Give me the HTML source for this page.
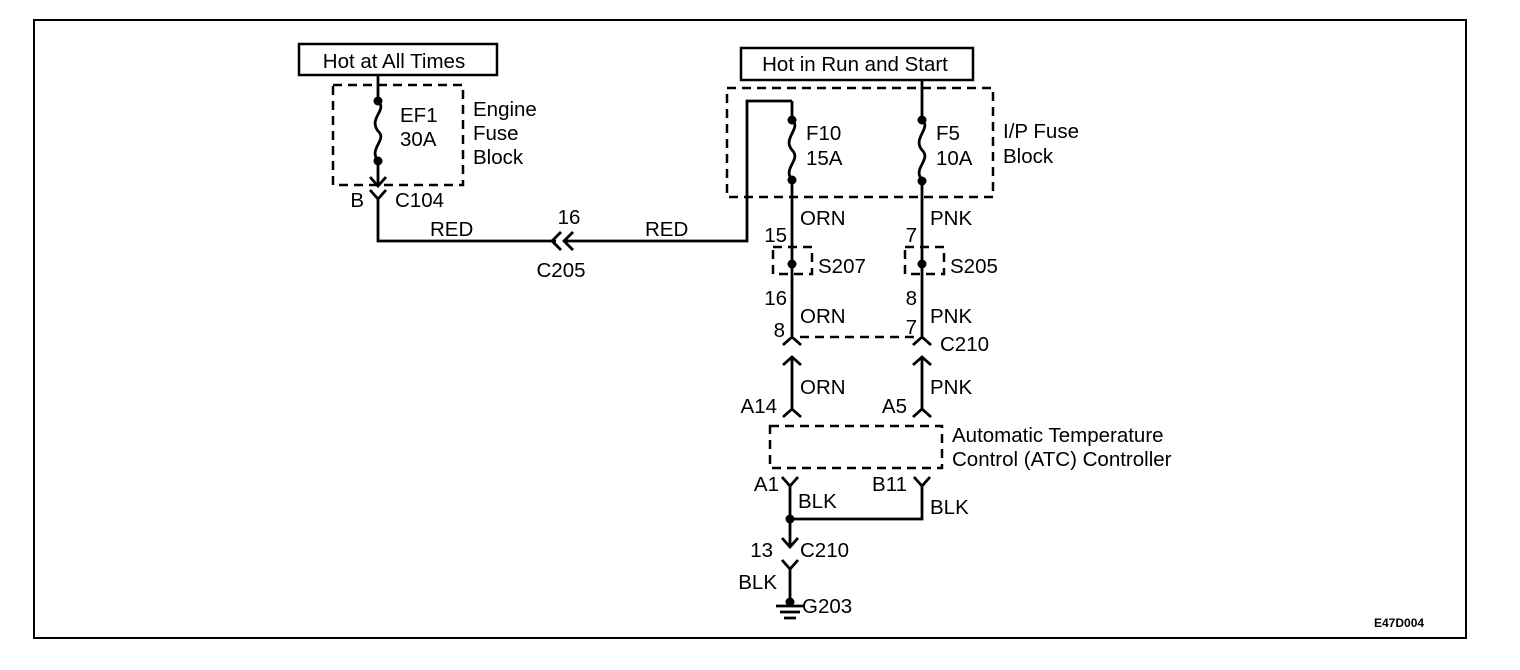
<!DOCTYPE html>
<html><head><style>
html,body{margin:0;padding:0;background:#fff;}
svg{display:block;}
text{font-family:"Liberation Sans",sans-serif;font-size:20.5px;fill:#000;}
</style></head><body>
<svg width="1520" height="670" viewBox="0 0 1520 670" xmlns="http://www.w3.org/2000/svg">
<rect x="34" y="20" width="1432" height="618" fill="none" stroke="#000" stroke-width="2"/>
<g fill="none" stroke="#000" stroke-width="2.5">
<rect x="299" y="44" width="198" height="31"/>
<rect x="741" y="48" width="232" height="32"/>
</g>
<g fill="none" stroke="#000" stroke-width="2.5" stroke-dasharray="9,6">
<rect x="333" y="85" width="130" height="100"/>
<rect x="727" y="88" width="266" height="109"/>
<rect x="773" y="247" width="39" height="27"/>
<rect x="905" y="247" width="39" height="27"/>
<line x1="800" y1="337" x2="915" y2="337"/>
<rect x="770" y="426" width="172" height="42"/>
</g>
<g fill="none" stroke="#000" stroke-width="2.8">
<path d="M378 75 V101 C388 110,368 118,378 131 C388 140,368 148,378 161 V186"/>
<path d="M370 177 L378 186 L386 177"/>
<path d="M370 190 L378 199 L386 190 M378 199 V241 H556"/>
<path d="M561 232 L552 241 L561 250"/>
<path d="M573 232 L564 241 L573 250 M564 241 H747 V101 H792"/>
<path d="M792 101 V120 C802 128,782 138,792 150 C802 160,782 168,792 180 V336"/>
<path d="M783 345 L792 337 L801 345"/>
<path d="M783 365 L792 357 L801 365 M792 357 V410"/>
<path d="M783 417 L792 409 L801 417"/>
<path d="M922 80 V120 C932 128,912 138,922 150 C932 160,912 168,922 180 V336"/>
<path d="M913 345 L922 337 L931 345"/>
<path d="M913 365 L922 357 L931 365 M922 357 V410"/>
<path d="M913 417 L922 409 L931 417"/>
<path d="M782 477 L790 486 L798 477 M790 486 V545"/>
<path d="M914 477 L922 486 L930 477 M922 486 V519 H790"/>
<path d="M782 538 L790 547 L798 538"/>
<path d="M782 560 L790 569 L798 560 M790 569 V602"/>
<path d="M776 606 H804 M780 612 H800 M784 618 H796"/>
</g>
<g fill="#000">
<circle cx="378" cy="101" r="4.5"/><circle cx="378" cy="161" r="4.5"/>
<circle cx="792" cy="120" r="4.5"/><circle cx="792" cy="180" r="4.5"/>
<circle cx="922" cy="120" r="4.5"/><circle cx="922" cy="181" r="4.5"/>
<circle cx="792" cy="264" r="4.5"/><circle cx="922" cy="264" r="4.5"/>
<circle cx="790" cy="519" r="4.5"/><circle cx="790" cy="602" r="4.5"/>
</g>
<text x="394" y="68" text-anchor="middle">Hot at All Times</text>
<text x="855" y="71" text-anchor="middle">Hot in Run and Start</text>
<text x="400" y="122">EF1</text><text x="400" y="146">30A</text>
<text x="473" y="116">Engine</text><text x="473" y="140">Fuse</text><text x="473" y="164">Block</text>
<text x="364" y="207" text-anchor="end">B</text><text x="395" y="207">C104</text>
<text x="430" y="236">RED</text><text x="569" y="224" text-anchor="middle">16</text><text x="561" y="277" text-anchor="middle">C205</text>
<text x="645" y="236">RED</text>
<text x="806" y="140">F10</text><text x="806" y="165">15A</text>
<text x="936" y="140">F5</text><text x="936" y="165">10A</text>
<text x="1003" y="138">I/P Fuse</text><text x="1003" y="163">Block</text>
<text x="800" y="225">ORN</text><text x="787" y="242" text-anchor="end">15</text>
<text x="930" y="225">PNK</text><text x="917" y="242" text-anchor="end">7</text>
<text x="818" y="273">S207</text><text x="950" y="273">S205</text>
<text x="787" y="305" text-anchor="end">16</text><text x="917" y="305" text-anchor="end">8</text>
<text x="800" y="323">ORN</text><text x="930" y="323">PNK</text>
<text x="785" y="337" text-anchor="end">8</text><text x="917" y="334" text-anchor="end">7</text>
<text x="940" y="351">C210</text>
<text x="800" y="394">ORN</text><text x="930" y="394">PNK</text>
<text x="777" y="413" text-anchor="end">A14</text><text x="907" y="413" text-anchor="end">A5</text>
<text x="952" y="442">Automatic Temperature</text>
<text x="952" y="466">Control (ATC) Controller</text>
<text x="779" y="491" text-anchor="end">A1</text><text x="907" y="491" text-anchor="end">B11</text>
<text x="798" y="508">BLK</text><text x="930" y="514">BLK</text>
<text x="773" y="557" text-anchor="end">13</text><text x="800" y="557">C210</text>
<text x="777" y="589" text-anchor="end">BLK</text><text x="802" y="613">G203</text>
<text x="1374" y="627" style="font-size:12px;font-weight:bold">E47D004</text>
</svg>
</body></html>
